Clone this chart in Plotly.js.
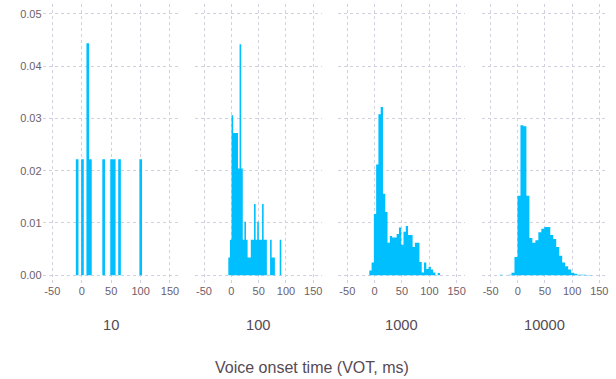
<!DOCTYPE html>
<html>
<head>
<meta charset="utf-8">
<script src="https://cdn.plot.ly/plotly-3.0.1.min.js"></script>
<style>html,body{margin:0;padding:0;background:#fff;}#chart{width:616px;height:379px;}</style>
</head>
<body>
<div id="chart"></div>
<script>
// Sample sizes (panel labels)
const sampleSizes = ["10", "100", "1000", "10000"];

// Histogram bins: first bin left edge, bin width (ms), and density per bin
const bins10Start = -10,   bins10Width = 4.5;
const density10 = [0.0222,0,0.0222,0,0.0444,0.0222,0,0,0,0,0.0222,0,0,0.0222,0.0222,0,0.0222,0,0,0,0,0,0,0,0.0222];

const bins100Start = -5.5, bins100Width = 2.94;
const density100 = [0.0034,0.0068,0.0306,0.0272,0.0272,0.0272,0.0204,0.0442,0.0204,0.0068,0.0102,0.0068,0.0034,0.0034,0.0068,0.0068,0.0136,0.0068,0.0102,0.0068,0.0068,0.0136,0.0068,0.0068,0,0,0.0068,0.0034,0.0034,0,0,0,0.0068];

const bins1000Start = -9.8, bins1000Width = 4.17;
const density1000 = [0.0009,0.0024,0.0117,0.0212,0.0308,0.0322,0.0156,0.0121,0.0062,0.0075,0.0072,0.0072,0.0079,0.0091,0.0058,0.0083,0.0094,0.0077,0.0077,0.0054,0.0062,0.0062,0.0025,0.0005,0.0024,0.0012,0.0016,0.0011,0.0005,0,0.0004];

const bins10000Start = -33.6, bins10000Width = 5.49;
const density10000 = [0.00006,0,0,0.0001,0.00045,0.0035,0.0152,0.0287,0.0285,0.0152,0.0071,0.0062,0.0067,0.0082,0.0089,0.0092,0.0092,0.0077,0.0069,0.0054,0.0037,0.0024,0.0017,0.0011,0.00045,0.00025,0.0001,0.00006,0.00006,0.00004,0.00004];

const xTicks = [-50, 0, 50, 100, 150];
const yTicks = [0, 0.01, 0.02, 0.03, 0.04, 0.05];
const xTitle = "Voice onset time (VOT, ms)";

const panels = [
  {start: bins10Start, width: bins10Width, dens: density10},
  {start: bins100Start, width: bins100Width, dens: density100},
  {start: bins1000Start, width: bins1000Width, dens: density1000},
  {start: bins10000Start, width: bins10000Width, dens: density10000}
];

const W = 616, H = 379;
const domainsPx = [[42.6, 179.4], [195, 322], [338.3, 465.4], [481.7, 608]];
const yDomain = [1 - 283 / H, 1 - 4 / H];

const barColor = '#00BFFF';
const gridColor = '#D0D0E0';
const tickColor = '#6c606b';
const labelColor = '#564a55';
const fontFam = '"Liberation Sans", Arial, sans-serif';

const traces = [];
const layout = {
  width: W, height: H,
  margin: {l: 0, r: 0, t: 0, b: 0},
  paper_bgcolor: '#ffffff', plot_bgcolor: '#ffffff',
  showlegend: false,
  font: {family: fontFam, color: tickColor},
  annotations: []
};

panels.forEach((p, i) => {
  const sfx = i === 0 ? '' : String(i + 1);
  // step outline of the histogram: one point per bin edge (left edges + final right edge)
  const edges = p.dens.map((_, k) => p.start + k * p.width);
  edges.push(p.start + p.dens.length * p.width);
  const ys = p.dens.concat([0]);
  traces.push({
    type: 'scatter', mode: 'lines', x: edges, y: ys,
    line: {shape: 'hv', width: 0, color: barColor},
    fill: 'tozeroy', fillcolor: barColor,
    xaxis: 'x' + sfx, yaxis: 'y' + sfx,
    hoverinfo: 'skip'
  });
  layout['xaxis' + sfx] = {
    domain: [domainsPx[i][0] / W, domainsPx[i][1] / W],
    anchor: 'y' + sfx,
    range: [-66.5, 166],
    tickvals: xTicks, ticktext: xTicks.map(String),
    ticks: '', showline: false, zeroline: false,
    showgrid: true, gridcolor: gridColor, gridwidth: 1, griddash: 'dot',
    tickfont: {size: 11, color: tickColor, family: fontFam},
    fixedrange: true
  };
  layout['yaxis' + sfx] = {
    domain: yDomain,
    anchor: 'x' + sfx,
    range: [-0.0015, 0.0519],
    tickvals: yTicks, ticktext: yTicks.map(v => v.toFixed(2)),
    showticklabels: i === 0,
    ticks: '', showline: false, zeroline: false,
    showgrid: true, gridcolor: gridColor, gridwidth: 1, griddash: 'dot',
    tickfont: {size: 11, color: tickColor, family: fontFam},
    fixedrange: true
  };
  layout.annotations.push({
    xref: 'x' + sfx + ' domain', yref: 'paper',
    x: 0.5, y: 1 - 325 / H, xanchor: 'center', yanchor: 'middle',
    text: sampleSizes[i], showarrow: false,
    font: {size: 14.7, color: labelColor, family: fontFam}
  });
});

layout.annotations.push({
  xref: 'paper', yref: 'paper',
  x: 312 / W, y: 1 - 367 / H, xanchor: 'center', yanchor: 'middle',
  text: xTitle, showarrow: false,
  font: {size: 16, color: labelColor, family: fontFam}
});

Plotly.newPlot('chart', traces, layout, {staticPlot: true, displayModeBar: false});
</script>
</body>
</html>
